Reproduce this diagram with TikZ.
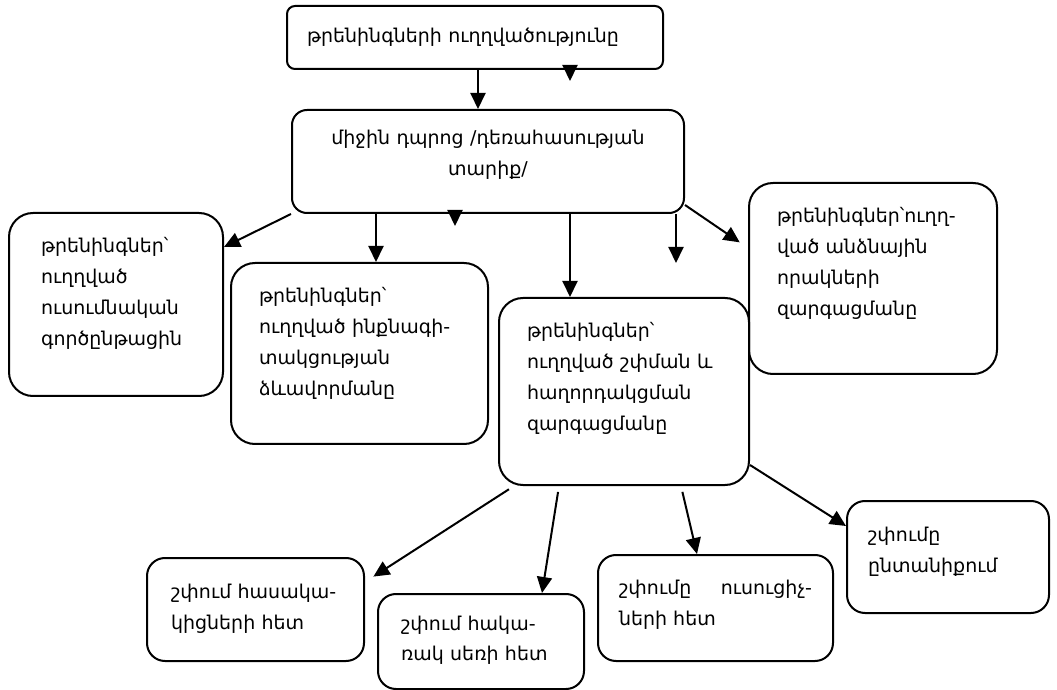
\documentclass[tikz,border=0pt]{standalone}
\usepackage{fontspec}
\setmainfont{DejaVu Sans}
\usepackage{tikz}
\usetikzlibrary{arrows.meta,positioning}
\tikzset{box node/.style={draw, line width=1pt, rounded corners=12pt,
    anchor=north west, align=left, text height=7pt,
    inner xsep=14pt, inner ysep=13pt}}
\tikzset{small node/.style={box node, rounded corners=9pt}}
\tikzset{head node/.style={draw, line width=1pt, rounded corners=4pt,
    anchor=north west, align=left, inner xsep=10pt,
    minimum width=188pt, minimum height=31.5pt, text width=168pt}}
\tikzset{flow edge/.style={line width=1pt, -{Triangle[length=8pt, width=7.5pt]}}}

\begin{document}
\begin{tikzpicture}
  [x=0.5pt, y=-0.5pt, font=\fontsize{9.5}{15.5}\selectfont]
  \useasboundingbox (0,0) rectangle (1057,690);

  \node [head node]                                      (aim)    at (286,5)   {թրենինգների ուղղվածությունը};
  \node [box node, rounded corners=7.5pt, align=center,
         inner ysep=10.5pt, text width=168pt, text depth=23.5pt] (school) at (291,109) {միջին դպրոց /դեռահասության\\տարիք/};
  \node [box node, inner xsep=16pt, text width=75pt, text depth=58.5pt]   (study)  at (8,212)   {թրենինգներ՝\\ուղղված\\ուսումնական\\գործընթացին};
  \node [box node, text width=100.5pt, text depth=57.5pt]                 (self)   at (230,262) {թրենինգներ՝\\ուղղված ինքնագի-\\տակցության\\ձևավորմանը};
  \node [box node, text width=97pt, text depth=60.5pt]                    (comm)   at (498,297) {թրենինգներ՝\\ուղղված շփման և\\հաղորդակցման\\զարգացմանը};
  \node [box node, text width=96pt, text depth=62.5pt]                    (pers)   at (748,182) {թրենինգներ՝ուղղ-\\ված անձնային\\որակների\\զարգացմանը};
  \node [small node, inner xsep=12pt, text width=84.5pt, text depth=18.5pt]  (peers)   at (146,557) {շփում հասակա-\\կիցների հետ};
  \node [small node, inner xsep=11.5pt, inner ysep=11pt, text width=80pt,
         text depth=18.5pt]                                                (sex)     at (377,593) {շփում հակա-\\ռակ սեռի հետ};
  \node [small node, inner xsep=10.5pt, align=justify, text width=96.5pt,
         text depth=20pt]                                                  (teach)   at (597,554) {շփումը ուսուցիչ-\linebreak ների հետ};
  \node [small node, inner xsep=10.5pt, text width=80pt, text depth=23pt]  (family)  at (846,500) {շփումը\\ընտանիքում};

  \coordinate (tip1) at (570,81);
  \coordinate (tip2) at (455,226);
  \coordinate (tip3) at (676,263);

  % upper part
  \draw [flow edge] (aim.south -| 478,0)    to (school.north -| 478,0);
  \draw [flow edge] (aim.south -| tip1)     to (tip1);
  \draw [flow edge] (school.south west)     to (study.east |- 0,247);
  \draw [flow edge] (school.south -| 376,0) to (self.north -| 376,0);
  \draw [flow edge] (school.south -| tip2)  to (tip2);
  \draw [flow edge] (school.south -| 570,0) to (comm.north -| 570,0);
  \draw [flow edge] (school.south -| tip3)  to (tip3);
  \draw [flow edge, shorten >=5pt] (school.east |- 0,205) to (pers.west |- 0,248);

  % lower part
  \draw [flow edge, shorten <=3pt, shorten >=5pt] (comm.south -| 514,0) to (peers.east |- 0,582);
  \draw [flow edge, shorten <=3pt] (comm.south -| 559,0) to (sex.north -| 542,0);
  \draw [flow edge, shorten <=3pt] (comm.south -| 681,0) to (teach.north -| 697,0);
  \draw [flow edge]                (comm.east |- 0,465)  to (family.west |- 0,526);
\end{tikzpicture}
\end{document}
